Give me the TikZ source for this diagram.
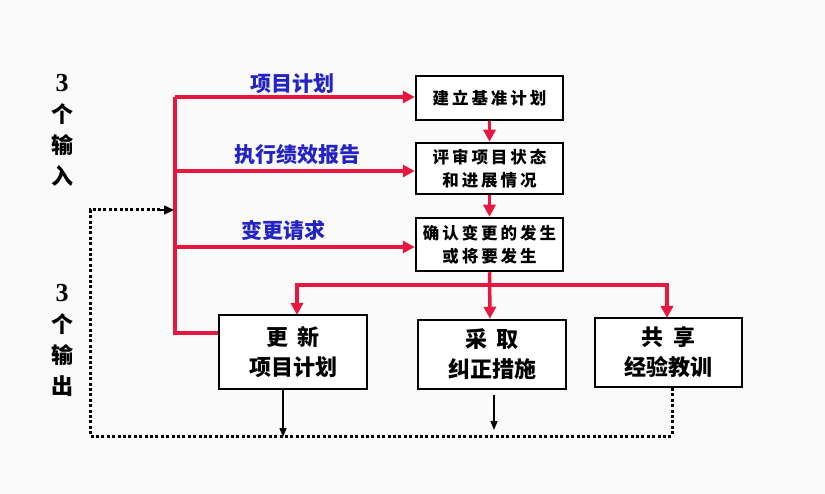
\documentclass[tikz,border=0pt]{standalone}
\usepackage{fontspec}
\newfontfamily\cjk{Noto Sans CJK SC}
\newfontfamily\cjksp{Noto Sans CJK SC}[LetterSpace=18]
\newfontfamily\numfont{Liberation Serif}
\usetikzlibrary{arrows.meta,calc}
\definecolor{rd}{HTML}{E8173F}
\definecolor{bl}{HTML}{2424C4}
\definecolor{bg}{HTML}{FAFAFA}
\tikzset{
  topbox/.style={draw=black,line width=2.5pt,fill=white,minimum width=147pt,align=center,
    font=\cjksp\bfseries\fontsize{16.5}{23}\selectfont,inner sep=0pt},
  botbox/.style={draw=black,line width=2.5pt,fill=white,minimum width=148pt,align=center,
    font=\cjk\bfseries\fontsize{22}{30}\selectfont,inner sep=0pt},
  lbl/.style={text=bl,font=\cjk\bfseries\fontsize{21}{24}\selectfont,inner sep=0pt},
  side/.style={align=center,font=\cjk\bfseries\fontsize{22}{31}\selectfont,inner sep=0pt},
  redline/.style={draw=rd,line width=3.5pt},
  redarrow/.style={draw=rd,line width=3.5pt,-{Triangle[length=12pt,width=12pt]}},
  blackarrow/.style={draw=black,line width=1.4pt,-{Triangle[length=9pt,width=7pt]}},
  dots/.style={draw=black,line width=3pt,dash pattern=on 3pt off 2.4pt},
}
\begin{document}
\begin{tikzpicture}[x=1pt,y=-1pt]
\fill[bg] (0,0) rectangle (825,494);
\useasboundingbox (0,0) rectangle (825,494);
% boxes
\node[topbox,minimum height=44pt] (B1) at (489.5,98) {建立基准计划};
\node[topbox,minimum height=51pt] (B2) at (489.5,168.5) {评审项目状态\\和进展情况};
\node[topbox,minimum height=53pt] (B3) at (489.5,244.5) {确认变更的发生\\或将要发生};
\node[botbox,minimum height=74pt] (B4) at (293,352) {更\hspace{0.45em}新\\项目计划};
\node[botbox,minimum height=69pt] (B5) at (492,354.5) {采\hspace{0.45em}取\\纠正措施};
\node[botbox,minimum height=69pt,minimum width=147pt] (B6) at (668.5,352.5) {共\hspace{0.45em}享\\经验教训};
% side texts
\node[side] (IN) at (62,130) {{\numfont\bfseries\fontsize{26}{31}\selectfont 3}\\个\\输\\入};
\node[side] (OUT) at (62,340) {{\numfont\bfseries\fontsize{26}{31}\selectfont 3}\\个\\输\\出};
% labels
\node[lbl] (L1) at (292,84) {项目计划};
\node[lbl] (L2) at (297,155) {执行绩效报告};
\node[lbl] (L3) at (283,230) {变更请求};
% red input lines
\coordinate (ttop) at (175,97);
\coordinate (tbot) at (175,333);
\draw[redline,line join=miter] (B4.west |- tbot) -- (tbot) -- (ttop);
\draw[redarrow] (ttop) -- (B1.west |- ttop);
\draw[redarrow] (175,171) -- (B2.west |- 0,171);
\draw[redarrow] (175,247) -- (B3.west |- 0,247);
% red vertical chain
\draw[redarrow] (B1.south) -- (B2.north);
\draw[redarrow] (B2.south) -- (B3.north);
\coordinate (split) at (490,285);
\draw[redarrow] (B3.south) -- (B5.north -| split);
\draw[redarrow] (split) -| (297,315);
\draw[redarrow] (split) -| (667,318);
% dotted feedback
\coordinate (d1) at (90,210);
\coordinate (d2) at (90,436);
\draw[dots] (672,388) -- (672,436) -- (d2) -- (d1) -- (160,210);
\draw[draw=black,line width=1.4pt,-{Triangle[length=10pt,width=9pt]}] (158,210) -- (174,210);
% black outputs
\draw[blackarrow] (283,389) -- (283,437);
\draw[blackarrow] (494,395) -- (494,430);
\end{tikzpicture}
\end{document}
